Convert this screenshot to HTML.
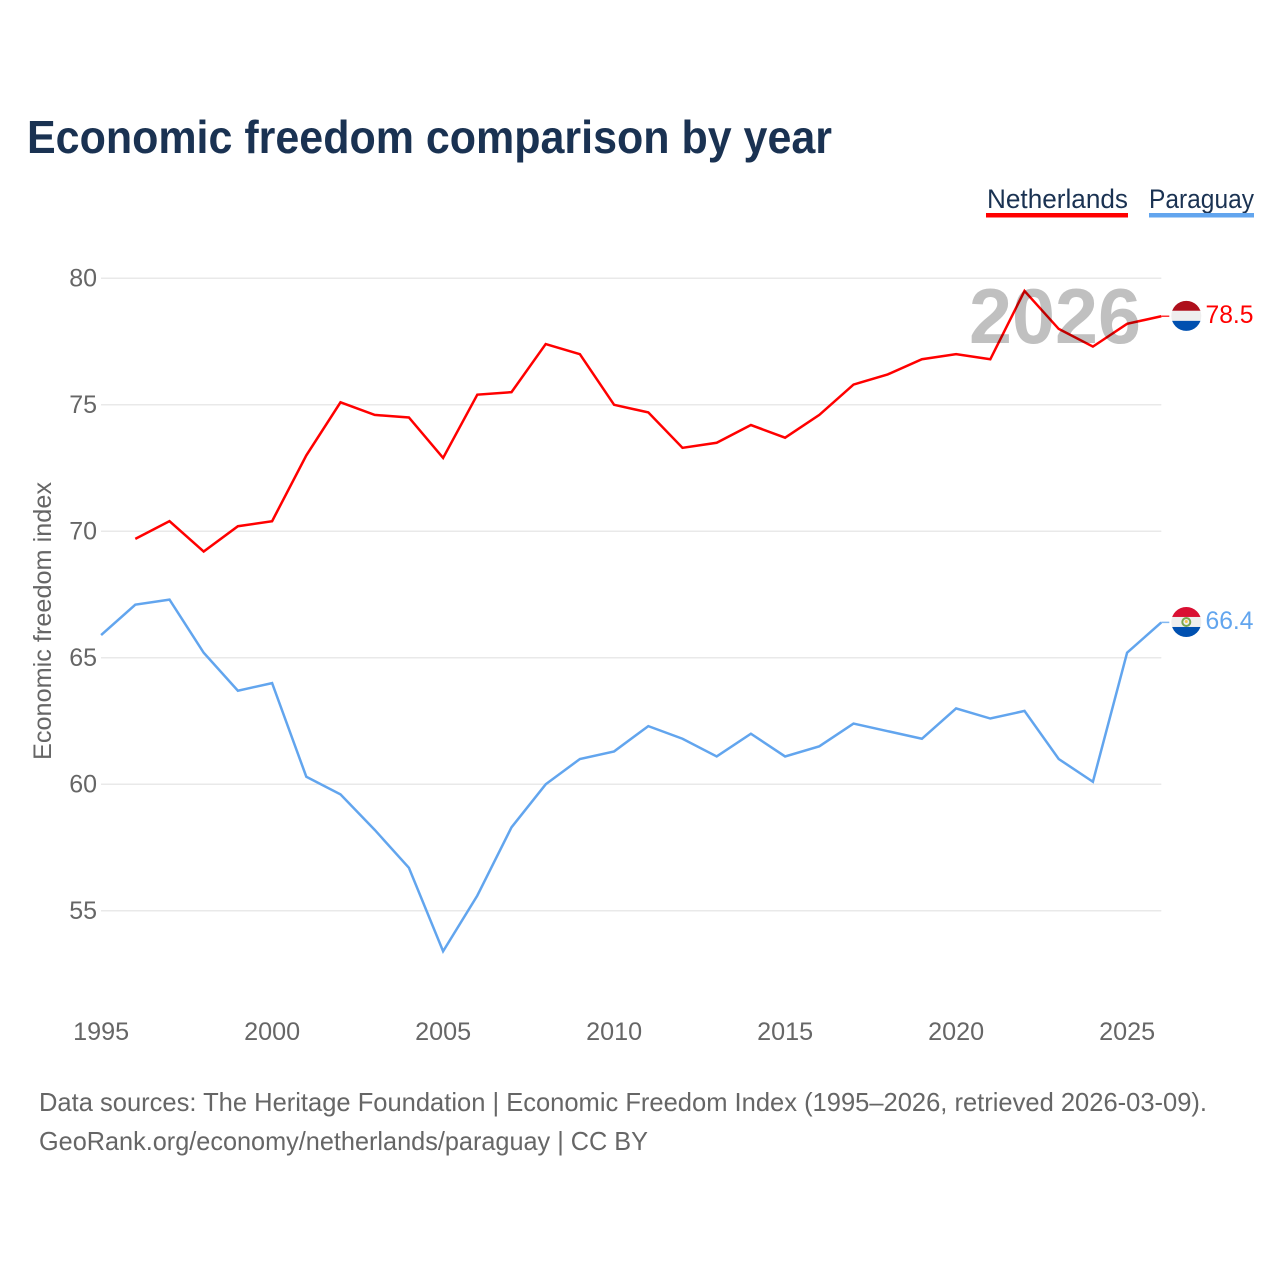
<!DOCTYPE html>
<html lang="en">
<head>
<meta charset="utf-8">
<title>Economic freedom comparison by year</title>
<style>
  html, body { margin: 0; padding: 0; background: #fff; }
  svg { display: block; font-family: "Liberation Sans", "DejaVu Sans", sans-serif; }
  .tick { fill: #666; font-size: 25px; }
  .foot { fill: #666; font-size: 26px; }
</style>
</head>
<body>
<svg id="chart" width="1280" height="1280" viewBox="0 0 1280 1280" xmlns="http://www.w3.org/2000/svg">
  <defs>
    <clipPath id="flag-clip"><circle cx="0" cy="0" r="15"></circle></clipPath>
  </defs>
  <rect x="0" y="0" width="1280" height="1280" fill="#fff"></rect>

  <text x="27" y="153" font-size="46" font-weight="700" fill="#1a3252" textLength="805" lengthAdjust="spacingAndGlyphs">Economic freedom comparison by year</text>

  <g>
    <text x="987" y="208" font-size="27" fill="#1a3252" textLength="141" lengthAdjust="spacingAndGlyphs">Netherlands</text>
    <rect x="986" y="213" width="142" height="4.5" fill="#ff0000"></rect>
  </g>
  <g>
    <text x="1149" y="208" font-size="27" fill="#1a3252" textLength="105" lengthAdjust="spacingAndGlyphs">Paraguay</text>
    <rect x="1149" y="213" width="105" height="4.5" fill="#62a5ee"></rect>
  </g>

  <g id="grid"></g>
  <g id="y-ticks"></g>
  <g id="x-ticks"></g>

  <text transform="translate(51 621) rotate(-90)" text-anchor="middle" font-size="25" fill="#666" textLength="278" lengthAdjust="spacingAndGlyphs">Economic freedom index</text>

  <g id="series"></g>

  <text x="969" y="343" font-size="78" font-weight="700" fill="#c0c0c0" textLength="172" lengthAdjust="spacingAndGlyphs" style="mix-blend-mode:multiply">2026</text>

  <g id="flag-netherlands">
    <g clip-path="url(#flag-clip)">
      <rect x="-16" y="-16" width="32" height="11" fill="#ae0f1c"></rect>
      <rect x="-16" y="-5" width="32" height="10" fill="#eeeeee"></rect>
      <rect x="-16" y="5" width="32" height="11" fill="#0050b0"></rect>
    </g>
  </g>
  <g id="flag-paraguay">
    <g clip-path="url(#flag-clip)">
      <rect x="-16" y="-16" width="32" height="11" fill="#d90f32"></rect>
      <rect x="-16" y="-5" width="32" height="10" fill="#eeeeee"></rect>
      <rect x="-16" y="5" width="32" height="11" fill="#0050b0"></rect>
      <circle cx="0" cy="0" r="4" fill="none" stroke="#7aa650" stroke-width="2"></circle>
      <circle cx="0" cy="-0.5" r="1.5" fill="#f2c34e"></circle>
    </g>
  </g>

  <g id="end-labels"></g>

  <text class="foot" x="39" y="1111" textLength="1168" lengthAdjust="spacingAndGlyphs">Data sources: The Heritage Foundation | Economic Freedom Index (1995–2026, retrieved 2026-03-09).</text>
  <a><text class="foot" x="39" y="1150" textLength="609" lengthAdjust="spacingAndGlyphs">GeoRank.org/economy/netherlands/paraguay | CC BY</text></a>
</svg>

<script>
const yTicks = [80, 75, 70, 65, 60, 55];
const xTicks = [1995, 2000, 2005, 2010, 2015, 2020, 2025];
const netherlandsStart = 1996;
const netherlandsValues = [69.7, 70.4, 69.2, 70.2, 70.4, 73.0, 75.1, 74.6, 74.5, 72.9, 75.4, 75.5, 77.4, 77.0, 75.0, 74.7, 73.3, 73.5, 74.2, 73.7, 74.6, 75.8, 76.2, 76.8, 77.0, 76.8, 79.5, 78.0, 77.3, 78.2, 78.5];
const paraguayStart = 1995;
const paraguayValues = [65.9, 67.1, 67.3, 65.2, 63.7, 64.0, 60.3, 59.6, 58.2, 56.7, 53.4, 55.6, 58.3, 60.0, 61.0, 61.3, 62.3, 61.8, 61.1, 62.0, 61.1, 61.5, 62.4, 62.1, 61.8, 63.0, 62.6, 62.9, 61.0, 60.1, 65.2, 66.4];

const NS = 'http://www.w3.org/2000/svg';
const xScale = function (year) { return 101.1 + (year - 1995) * 34.2; };
const yScale = function (value) { return 278.3 + (80 - value) * 25.3; };
const lastX = xScale(2026);

function make(tag, parentId, props, text) {
  const el = document.createElementNS(NS, tag);
  Object.keys(props).forEach(function (k) { el.setAttribute(k, props[k]); });
  if (text !== undefined) el.textContent = text;
  document.getElementById(parentId).appendChild(el);
  return el;
}

yTicks.forEach(function (v) {
  const line = make('line', 'grid', { x1: 101, x2: lastX, y1: yScale(v), y2: yScale(v), stroke: '#e9e9e9', 'stroke-width': 1.5 });
  
  
  const label = make('text', 'y-ticks', { x: 97, y: yScale(v) + 8.2, 'text-anchor': 'end', class: 'tick' }, String(v));
  
  
});

xTicks.forEach(function (yr) {
  const label = make('text', 'x-ticks', { x: xScale(yr), y: 1040, 'text-anchor': 'middle', class: 'tick', textLength: 56, lengthAdjust: 'spacingAndGlyphs' }, String(yr));
  
  
});

function drawSeries(key, start, values, color) {
  const pts = values.map(function (v, i) { return xScale(start + i).toFixed(2) + ',' + yScale(v).toFixed(2); });
  const line = make('polyline', 'series', { points: pts.join(' '), fill: 'none', stroke: color, 'stroke-width': 2.5, 'stroke-linejoin': 'miter' });
  
  
  const last = values[values.length - 1];
  const connector = make('line', 'series', { x1: lastX, x2: lastX + 8, y1: yScale(last), y2: yScale(last), stroke: color, 'stroke-width': 1.5, 'stroke-opacity': 0.8 });
  
  
  document.getElementById('flag-' + key).setAttribute('transform', 'translate(1186.3 ' + (yScale(last) - 0.4).toFixed(2) + ')');
  const label = make('text', 'end-labels', { x: 1205.5, y: yScale(last) + 6.5, fill: color, 'font-size': 25, textLength: 48, lengthAdjust: 'spacingAndGlyphs' }, last.toFixed(1));
  
  
}

drawSeries('netherlands', netherlandsStart, netherlandsValues, '#ff0000');
drawSeries('paraguay', paraguayStart, paraguayValues, '#62a5ee');
</script>
</body>
</html>
